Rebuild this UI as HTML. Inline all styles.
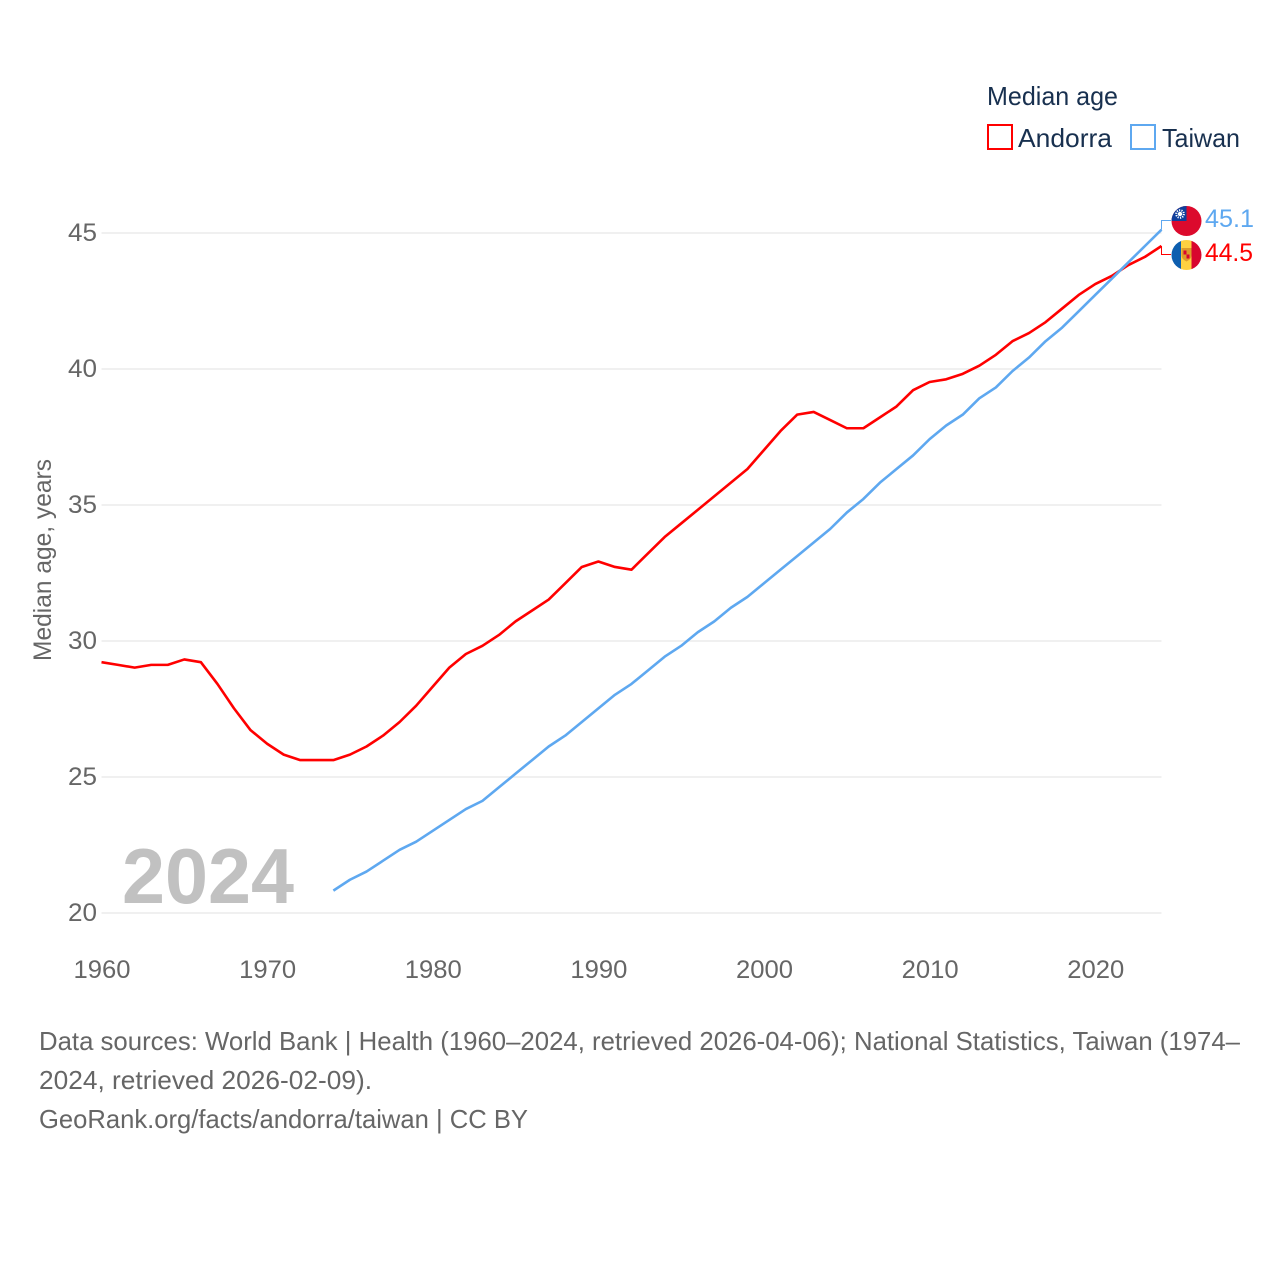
<!DOCTYPE html>
<html lang="en">
<head>
<meta charset="utf-8">
<title>Median age: Andorra and Taiwan</title>
<style>
html,body{margin:0;padding:0;background:#fff;width:1280px;height:1280px;overflow:hidden}
svg{display:block}
text{font-family:"Liberation Sans",sans-serif}
</style>
</head>
<body>
<svg id="chart" width="1280" height="1280" viewBox="0 0 1280 1280" xmlns="http://www.w3.org/2000/svg">
  <g id="grid"></g>
  <g id="yticks"></g>
  <g id="xticks"></g>
  <text transform="translate(51,661) rotate(-90)" font-size="25" fill="#666" textLength="202" lengthAdjust="spacingAndGlyphs">Median age, years</text>
  <text x="122" y="903" font-size="78" font-weight="700" fill="#c1c1c1" textLength="172" lengthAdjust="spacingAndGlyphs">2024</text>
  <g id="series"></g>
  <g>
    <text x="987" y="105" font-size="26" fill="#18304f" textLength="131" lengthAdjust="spacingAndGlyphs">Median age</text>
    <g>
      <rect x="988" y="125" width="24" height="24" fill="#fff" stroke="#ff0000" stroke-width="2"/>
      <text x="1018" y="147" font-size="26" fill="#18304f" textLength="94" lengthAdjust="spacingAndGlyphs">Andorra</text>
    </g>
    <g>
      <rect x="1131" y="125" width="24" height="24" fill="#fff" stroke="#5ea8f0" stroke-width="2"/>
      <text x="1162" y="147" font-size="26" fill="#18304f" textLength="78" lengthAdjust="spacingAndGlyphs">Taiwan</text>
    </g>
  </g>
  <g id="end-labels"></g>
  <defs>
    <clipPath id="flag-clip-tw"><circle cx="1186.500" cy="221" r="15"/></clipPath>
    <clipPath id="flag-clip-ad"><circle cx="1186.500" cy="255" r="15"/></clipPath>
  </defs>
  <g clip-path="url(#flag-clip-tw)">
    <rect x="1171" y="206" width="31" height="30" fill="#dc0a2d"/>
    <rect x="1171" y="206" width="15.500" height="15" fill="#0f3f9c"/>
    <circle cx="1180" cy="214" r="3.800" fill="none" stroke="#fff" stroke-width="2" stroke-dasharray="1.200 1.200"/>
    <circle cx="1180" cy="214" r="2.200" fill="#fff"/>
  </g>
  <g clip-path="url(#flag-clip-ad)">
    <rect x="1171" y="240" width="11" height="30" fill="#0d5eaf"/>
    <rect x="1181" y="240" width="11" height="30" fill="#fed141"/>
    <rect x="1191.500" y="240" width="11" height="30" fill="#d8062e"/>
    <path d="M1181.500 248h10v7.500q0 3.500-5 6q-5-2.500-5-6z" fill="#dd9a2a"/>
    <rect x="1183.500" y="250.500" width="3" height="4" fill="#d8062e"/>
    <rect x="1186.500" y="254.500" width="3" height="4" fill="#d8062e"/>
  </g>
</svg>
<script>
const categories = [1960,1961,1962,1963,1964,1965,1966,1967,1968,1969,1970,1971,1972,1973,1974,1975,1976,1977,1978,1979,1980,1981,1982,1983,1984,1985,1986,1987,1988,1989,1990,1991,1992,1993,1994,1995,1996,1997,1998,1999,2000,2001,2002,2003,2004,2005,2006,2007,2008,2009,2010,2011,2012,2013,2014,2015,2016,2017,2018,2019,2020,2021,2022,2023,2024];
const andorraValues = [29.2,29.1,29.0,29.1,29.1,29.3,29.2,28.4,27.5,26.7,26.2,25.8,25.6,25.6,25.6,25.8,26.1,26.5,27.0,27.6,28.3,29.0,29.5,29.8,30.2,30.7,31.1,31.5,32.1,32.7,32.9,32.7,32.6,33.2,33.8,34.3,34.8,35.3,35.8,36.3,37.0,37.7,38.3,38.4,38.1,37.8,37.8,38.2,38.6,39.2,39.5,39.6,39.8,40.1,40.5,41.0,41.3,41.7,42.2,42.7,43.1,43.4,43.8,44.1,44.5];
const taiwanYears = [1974,1975,1976,1977,1978,1979,1980,1981,1982,1983,1984,1985,1986,1987,1988,1989,1990,1991,1992,1993,1994,1995,1996,1997,1998,1999,2000,2001,2002,2003,2004,2005,2006,2007,2008,2009,2010,2011,2012,2013,2014,2015,2016,2017,2018,2019,2020,2021,2022,2023,2024];
const taiwanValues = [20.8,21.2,21.5,21.9,22.3,22.6,23.0,23.4,23.8,24.1,24.6,25.1,25.6,26.1,26.5,27.0,27.5,28.0,28.4,28.9,29.4,29.8,30.3,30.7,31.2,31.6,32.1,32.6,33.1,33.6,34.1,34.7,35.2,35.8,36.3,36.8,37.4,37.9,38.3,38.9,39.3,39.9,40.4,41.0,41.5,42.1,42.7,43.3,43.9,44.5,45.1];
const yTickLabels = [20,25,30,35,40,45];
const xTickLabels = [1960,1970,1980,1990,2000,2010,2020];

const NS = 'http://www.w3.org/2000/svg';
const plotLeft = 101.5, plotRight = 1161.5, plotBottom = 912.4, plotTop = 232.4;
const xMin = 1960, xMax = 2024, yMin = 20, yMax = 45;
function xScale(v){ return plotLeft + (v - xMin) / (xMax - xMin) * (plotRight - plotLeft); }
function yScale(v){ return plotBottom - (v - yMin) / (yMax - yMin) * (plotBottom - plotTop); }
function make(tag, attrs, parent, txt){
  const el = document.createElementNS(NS, tag);
  for (const k in attrs) el.setAttribute(k, attrs[k]);
  if (txt !== undefined) el.textContent = txt;
  parent.appendChild(el);
  return el;
}
const gridG = document.getElementById('grid');
const yG = document.getElementById('yticks');
const xG = document.getElementById('xticks');
const seriesG = document.getElementById('series');
const endG = document.getElementById('end-labels');

yTickLabels.forEach(function(t){
  const line = make('line', {x1: plotLeft, x2: plotRight, y1: yScale(t) + 0.6, y2: yScale(t) + 0.6, stroke: '#ebebeb', 'stroke-width': 1.5}, gridG);
  
  
  const label = make('text', {x: 68, y: yScale(t) + 8.5, 'font-size': 25, fill: '#666', textLength: 29, lengthAdjust: 'spacingAndGlyphs'}, yG, String(t));
  
  
});
xTickLabels.forEach(function(t){
  const label = make('text', {x: xScale(t) - 28, y: 978, 'font-size': 25, fill: '#666', textLength: 57, lengthAdjust: 'spacingAndGlyphs'}, xG, String(t));
  
  
});
function linePath(xs, ys){
  return xs.map(function(x, i){ return (i ? 'L' : 'M') + xScale(x).toFixed(2) + ' ' + yScale(ys[i]).toFixed(2); }).join('');
}
const andorraLine = make('path', {d: linePath(categories, andorraValues), fill: 'none', stroke: '#ff0000', 'stroke-width': 2.6, 'stroke-linejoin': 'round'}, seriesG);


const taiwanLine = make('path', {d: linePath(taiwanYears, taiwanValues), fill: 'none', stroke: '#5ea8f0', 'stroke-width': 2.6, 'stroke-linejoin': 'round'}, seriesG);



const lastAndorra = andorraValues[andorraValues.length - 1];
const lastTaiwan = taiwanValues[taiwanValues.length - 1];
const twConn = make('path', {d: 'M' + plotRight + ' ' + yScale(lastTaiwan) + 'V220.5H1171', fill: 'none', stroke: '#5ea8f0', 'stroke-width': 1}, endG);


const adConn = make('path', {d: 'M' + plotRight + ' ' + yScale(lastAndorra) + 'V254.5H1171', fill: 'none', stroke: '#ff0000', 'stroke-width': 1}, endG);


const twVal = make('text', {x: 1205, y: 227, 'font-size': 25, fill: '#5ea8f0', textLength: 49, lengthAdjust: 'spacingAndGlyphs'}, endG, lastTaiwan.toFixed(1));


const adVal = make('text', {x: 1205, y: 261, 'font-size': 25, fill: '#ff0000', textLength: 48, lengthAdjust: 'spacingAndGlyphs'}, endG, lastAndorra.toFixed(1));


</script>
<svg width="1280" height="140" viewBox="0 1020 1280 140" style="position:absolute;left:0;top:1020px" xmlns="http://www.w3.org/2000/svg">
  <text x="39" y="1050" font-size="26" fill="#666" textLength="1201" lengthAdjust="spacingAndGlyphs">Data sources: World Bank | Health (1960–2024, retrieved 2026-04-06); National Statistics, Taiwan (1974–</text>
  <text x="39" y="1089" font-size="26" fill="#666" textLength="333" lengthAdjust="spacingAndGlyphs">2024, retrieved 2026-02-09).</text>
  <text x="39" y="1128" font-size="26" fill="#666" textLength="489" lengthAdjust="spacingAndGlyphs">GeoRank.org/facts/andorra/taiwan | CC BY</text>
</svg>
</body>
</html>
